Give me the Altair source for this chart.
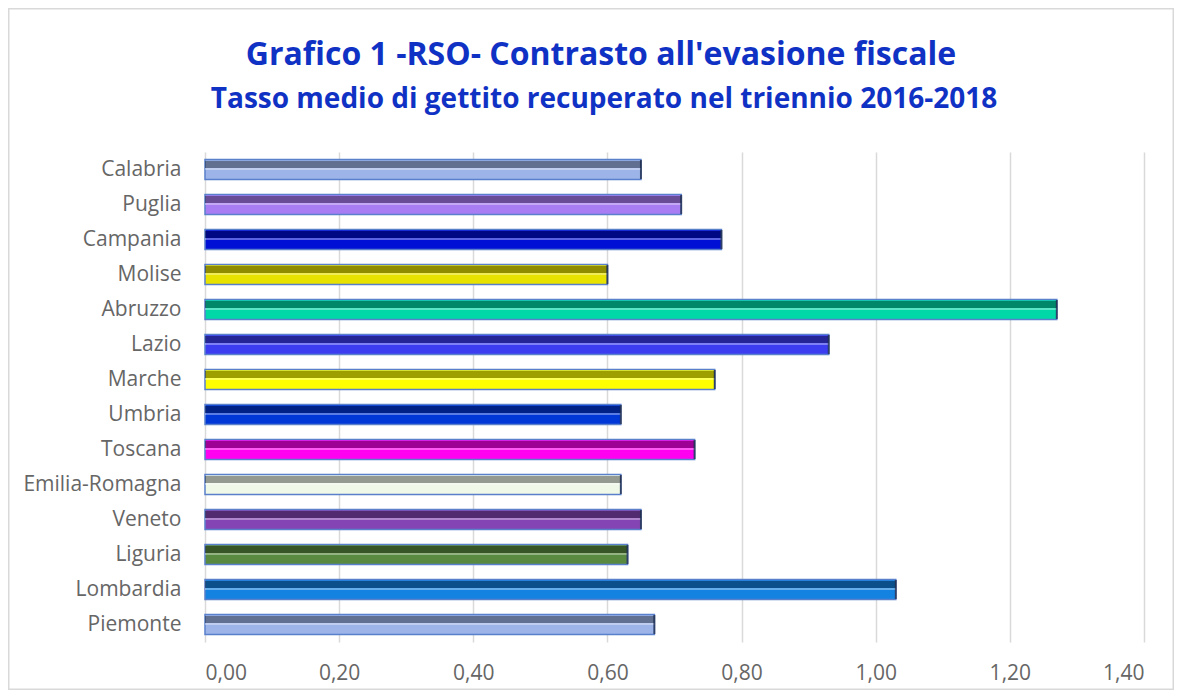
import altair as alt
import pandas as pd

regions = ["Calabria", "Puglia", "Campania", "Molise", "Abruzzo", "Lazio", "Marche",
           "Umbria", "Toscana", "Emilia-Romagna", "Veneto", "Liguria", "Lombardia", "Piemonte"]
values = [0.65, 0.71, 0.77, 0.60, 1.27, 0.93, 0.76,
          0.62, 0.73, 0.62, 0.65, 0.63, 1.03, 0.67]
colors = ["#9db4e8", "#a87cf2", "#0010d4", "#e8e200", "#00d8a8", "#3c3cf0", "#ffff00",
          "#0038d8", "#ff00f0", "#f0f8e8", "#8444b4", "#5a8a40", "#1482e0", "#9db4e8"]
x_ticks = [0.0, 0.2, 0.4, 0.6, 0.8, 1.0, 1.2, 1.4]
title_text = "Grafico 1 -RSO- Contrasto all'evasione fiscale"
subtitle_text = "Tasso medio di gettito recuperato nel triennio 2016-2018"

df = pd.DataFrame({"regione": regions, "valore": values})

W, H = 939, 490
PL, PT, PR, PB = 197, 144, 30, 48
FONT = "Open Sans"

y_enc = alt.Y("regione:N", sort=regions, title=None,
              scale=alt.Scale(paddingInner=0.0, paddingOuter=0.0),
              axis=alt.Axis(labelFontSize=21, labelColor="#666666", labelFont=FONT,
                            ticks=False, domain=False, labelPadding=24, grid=False))
x_enc = alt.X("valore:Q", title=None,
              scale=alt.Scale(domain=[0, 1.4], nice=False),
              axis=alt.Axis(values=x_ticks, labelFontSize=21, labelColor="#666666",
                            labelFont=FONT, ticks=False, domain=False, labelPadding=20,
                            grid=True, gridColor="#d9d9d9", gridWidth=1.5,
                            labelExpr="replace(format(datum.value, '.2f'), '.', ',')"))
y_plain = alt.Y("regione:N", sort=regions)

bars = alt.Chart(df).mark_bar(size=20, stroke="#5a80cc", strokeWidth=1.5).encode(
    x=x_enc, y=y_enc,
    color=alt.Color("regione:N", scale=alt.Scale(domain=regions, range=colors), legend=None),
)
shade = alt.Chart(df).mark_bar(size=7, yOffset=-5, color="#000000", opacity=0.38).encode(
    x="valore:Q", y=y_plain,
)
highlight = alt.Chart(df).mark_bar(size=2, yOffset=-0.5, color="#ffffff", opacity=0.35).encode(
    x="valore:Q", y=y_plain,
)
edge = alt.Chart(df).mark_tick(orient="vertical", size=19, thickness=2, color="#1a2540").encode(
    x="valore:Q", y=y_plain,
)
frame = alt.Chart(alt.Data(values=[{}])).mark_rect(
    fillOpacity=0, stroke="#d9d9d9", strokeWidth=1.5).encode(
    x=alt.value(-PL + 0.75), x2=alt.value(W + PR - 0.75),
    y=alt.value(-PT + 0.75), y2=alt.value(H + PB - 0.75),
)
title = alt.Chart(alt.Data(values=[{"t": title_text}])).mark_text(
    font=FONT, fontSize=32, fontWeight="bold", color="#1032c4",
    align="center", baseline="alphabetic").encode(
    text="t:N", x=alt.value(396), y=alt.value(-87))
subtitle = alt.Chart(alt.Data(values=[{"t": subtitle_text}])).mark_text(
    font=FONT, fontSize=28, fontWeight="bold", color="#1032c4",
    align="center", baseline="alphabetic").encode(
    text="t:N", x=alt.value(399), y=alt.value(-44))

chart = alt.layer(frame, bars, shade, highlight, edge, title, subtitle).properties(
    width=W, height=H,
    autosize=alt.AutoSizeParams(type="none"),
    padding={"left": PL, "top": PT, "right": PR, "bottom": PB},
).configure_view(stroke=None)

chart.save("out.html", embed_options={"renderer": "svg", "actions": False})
